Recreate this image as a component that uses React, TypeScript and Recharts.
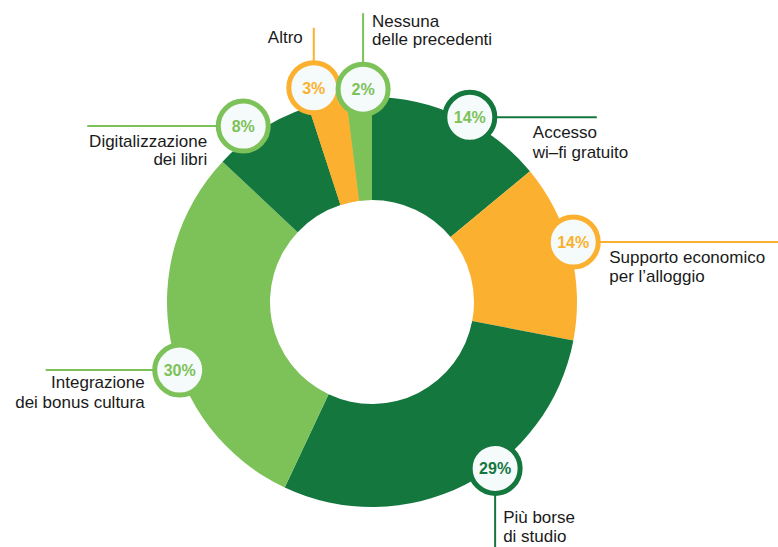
import React from "react";
import { PieChart, Pie, Cell } from "recharts";

// ---- data ----
const categories = [
  "Accesso wi–fi gratuito",
  "Supporto economico per l’alloggio",
  "Più borse di studio",
  "Integrazione dei bonus cultura",
  "Digitalizzazione dei libri",
  "Altro",
  "Nessuna delle precedenti",
];
const values = [14, 14, 29, 30, 8, 3, 2];
const labelLines = [
  ["Accesso", "wi–fi gratuito"],
  ["Supporto economico", "per l’alloggio"],
  ["Più borse", "di studio"],
  ["Integrazione", "dei bonus cultura"],
  ["Digitalizzazione", "dei libri"],
  ["Altro"],
  ["Nessuna", "delle precedenti"],
];
const explodedCategories = ["Altro", "Nessuna delle precedenti"];

// ---- styles ----
const DARK = "#13773e";
const LIGHT = "#7cc258";
const ORANGE = "#fbb12f";
const sliceColors = [DARK, ORANGE, DARK, LIGHT, DARK, ORANGE, LIGHT];
const ringColors = [DARK, ORANGE, DARK, LIGHT, LIGHT, ORANGE, LIGHT];
const pctColors = [LIGHT, ORANGE, DARK, LIGHT, LIGHT, ORANGE, LIGHT];

type Layout = {
  nudge: number; r: number; dir: "right" | "left" | "up" | "down"; len: number;
  tx: number; ty: number[]; anchor: "start" | "end";
};
const labelLayout: Layout[] = [
  { nudge: 2.7, r: 209, dir: "right", len: 127, tx: 63, ty: [21, 41], anchor: "start" },
  { nudge: -2.2, r: 210, dir: "right", len: 210, tx: 36, ty: [21, 40], anchor: "start" },
  { nudge: -9.5, r: 207, dir: "down", len: 85, tx: 8, ty: [55, 74], anchor: "start" },
  { nudge: -8.7, r: 204, dir: "left", len: 134, tx: -35, ty: [18, 38], anchor: "end" },
  { nudge: -3.8, r: 218, dir: "left", len: 156, tx: -36, ty: [21, 39], anchor: "end" },
  { nudge: -2.6, r: 222, dir: "up", len: 60, tx: -11, ty: [-45], anchor: "end" },
  { nudge: 1.2, r: 213, dir: "up", len: 76, tx: 9, ty: [-62, -44], anchor: "start" },
];

const chartData = categories.map((name, i) => ({ name, value: values[i] }));
const FONT = "'Liberation Sans', Arial, Helvetica, sans-serif";

const renderLabel = (props: any) => {
  const { cx, cy, midAngle, index } = props;
  const lay = labelLayout[index];
  const compass = ((90 - midAngle + lay.nudge) * Math.PI) / 180;
  const x = cx + lay.r * Math.sin(compass);
  const y = cy - lay.r * Math.cos(compass);
  let x2 = x, y2 = y;
  if (lay.dir === "right") x2 = x + lay.len;
  if (lay.dir === "left") x2 = x - lay.len;
  if (lay.dir === "up") y2 = y - lay.len;
  if (lay.dir === "down") y2 = y + lay.len;
  const lines = labelLines[index];
  return (
    <g key={`lbl-${index}`}>
      <line x1={x} y1={y} x2={x2} y2={y2} stroke={ringColors[index]} strokeWidth={2} />
      <circle cx={x} cy={y} r={25} fill="#f5fafa" stroke={ringColors[index]} strokeWidth={5} />
      <text
        x={x}
        y={y + 6}
        textAnchor="middle"
        fontFamily={FONT}
        fontWeight="bold"
        fontSize={16}
        fill={pctColors[index]}
      >
        {`${values[index]}%`}
      </text>
      <text x={x + lay.tx} textAnchor={lay.anchor} fontFamily={FONT} fontSize={17} fill="#1a1a1a">
        {lines.map((ln, j) => (
          <tspan key={j} x={x + lay.tx} y={y + lay.ty[j]}>
            {ln}
          </tspan>
        ))}
      </text>
    </g>
  );
};

export default function App() {
  return (
    <div style={{ position: "absolute", left: 0, top: 0, width: 778, height: 547, background: "#fff" }}>
      <PieChart width={778} height={547} margin={{ top: 0, right: 0, bottom: 0, left: 0 }}>
        <Pie
          data={chartData}
          dataKey="value"
          cx={372}
          cy={302}
          innerRadius={102}
          outerRadius={222}
          startAngle={90}
          endAngle={-270}
          stroke="none"
          isAnimationActive={false}
        >
          {chartData.map((d, i) => (
            <Cell key={i} fill={explodedCategories.includes(d.name) ? sliceColors[i] : "transparent"} />
          ))}
        </Pie>
        <Pie
          data={chartData}
          dataKey="value"
          cx={372}
          cy={302}
          innerRadius={102}
          outerRadius={205}
          startAngle={90}
          endAngle={-270}
          stroke="none"
          isAnimationActive={false}
          labelLine={false}
          label={renderLabel}
        >
          {chartData.map((d, i) => (
            <Cell key={i} fill={sliceColors[i]} />
          ))}
        </Pie>
      </PieChart>
    </div>
  );
}
